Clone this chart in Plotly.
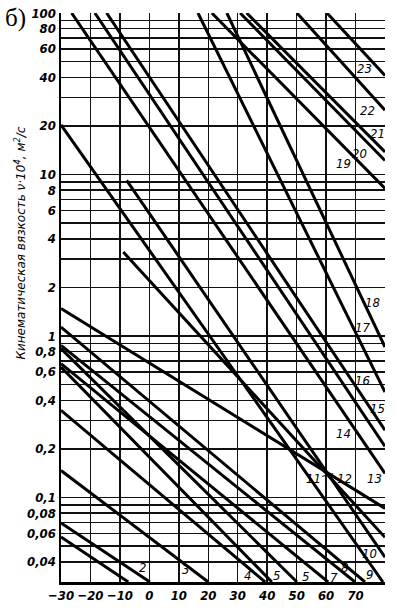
import numpy as np
import plotly.graph_objects as go

# ---- data ----
line_ids = ["1", "2", "3", "4", "g1", "g2", "g3", "g4", "g5", "g6",
            "a", "e", "f", "b", "c", "d", "17", "18", "19", "20", "21", "22", "23"]
t_start = [-30, -30, -30, -30, -30, -30, -30, -30, -30, -30,
           -30, -7.7, -8.85, -26.4, -18.5, -14.5, 16.5, 26.3, 21.2, 30.8, 33.05, 50.1, 60.3]
nu_start = [0.057, 0.0695, 0.147, 0.347, 1.48, 1.137, 0.876, 0.836, 0.675, 0.643,
            20.3, 9.2, 3.31, 100, 100, 100, 100, 100, 100, 100, 100, 100, 100]
t_end = [-7.15, 0.2, 20.0, 39.3, 80, 73.2, 69.8, 50.1, 60.7, 41.6,
         79.3, 80, 80, 80, 80, 80, 80, 80, 80, 80, 80, 80, 80]
nu_end = [0.03, 0.03, 0.03, 0.03, 0.0857, 0.03, 0.03, 0.03, 0.03, 0.03,
          0.03, 0.0427, 0.0567, 0.141, 0.2075, 0.261, 0.45, 0.855, 8.2, 12.2, 13.8, 25.0, 41.1]

label_text = ["2", "3", "4", "5", "5", "7", "8", "9", "10", "13",
              "14", "15", "16", "17", "18", "19", "20", "21", "22", "23"]
label_t = [-2.2, 12.4, 33.2, 43.3, 52.9, 62.7, 66.4, 74.6, 74.9, 76.6,
           65.8, 77.3, 72.5, 72.5, 75.9, 65.8, 71.5, 77.6, 74.2, 73.2]
label_nu = [0.037, 0.036, 0.033, 0.033, 0.0325, 0.032, 0.037, 0.0334, 0.0451, 0.1315,
            0.25, 0.357, 0.532, 1.13, 1.62, 11.7, 13.5, 18.0, 25.0, 45.5]

# labels with small leader strokes: text, tip T, tip nu, text offset (px)
leader_text = ["11", "12"]
leader_t = [62.4, 64.1]
leader_nu = [0.1406, 0.111]
leader_dx = [-20, 6]
leader_dy = [5, -12]

x_ticks = [-30, -20, -10, 0, 10, 20, 30, 40, 50, 60, 70, 80]
x_ticktext = ["−30", "−20", "−10", "0", "10", "20", "30", "40", "50", "60", "70", "T,°C"]

y_grid = [m * 10.0 ** e for e in range(-2, 2) for m in range(1, 10)] + [100]
y_grid = [v for v in y_grid if v >= 0.03 - 1e-9]
y_labels = {100: "100", 80: "80", 60: "60", 40: "40", 20: "20", 10: "10", 8: "8", 6: "6",
            4: "4", 2: "2", 1: "1", 0.8: "0,8", 0.6: "0,6", 0.4: "0,4", 0.2: "0,2",
            0.1: "0,1", 0.08: "0,08", 0.06: "0,06", 0.04: "0,04"}

def lab(v):
    for k, s in y_labels.items():
        if abs(v - k) / k < 1e-6:
            return s
    return ""

y_ticktext = [lab(v) for v in y_grid]

FONT = "DejaVu Sans Condensed, Liberation Sans Narrow, sans-serif"
TICKFONT = dict(family=FONT, size=13, color="black", style="italic", weight="bold")
LABFONT = dict(family=FONT, size=13, color="black", style="italic")

fig = go.Figure()
for i in range(len(line_ids)):
    fig.add_trace(go.Scatter(x=[t_start[i], t_end[i]], y=[nu_start[i], nu_end[i]],
                             mode="lines", line=dict(color="black", width=3),
                             showlegend=False, hoverinfo="skip"))

for s, t, n in zip(label_text, label_t, label_nu):
    fig.add_annotation(x=t, y=np.log10(n), text=s, showarrow=False, font=LABFONT)

for s, t, n, dx, dy in zip(leader_text, leader_t, leader_nu, leader_dx, leader_dy):
    fig.add_annotation(x=t, y=np.log10(n), text=s, showarrow=True, arrowhead=0,
                       arrowwidth=1, arrowcolor="black", ax=dx, ay=dy, standoff=0,
                       font=LABFONT)

fig.add_annotation(xref="paper", yref="paper", x=-0.157, y=0.595, textangle=-90,
                   text="Кинематическая вязкость ν·10<sup>4</sup>, м<sup>2</sup>/с",
                   showarrow=False, font=dict(family="DejaVu Sans, sans-serif", size=12,
                                              color="black", style="italic"))
fig.add_annotation(xref="paper", yref="paper", x=-0.178, y=1.02, xanchor="left", yanchor="top",
                   text="б)", showarrow=False,
                   font=dict(family="Liberation Serif, Times New Roman, serif", size=25, color="black"))

fig.update_xaxes(range=[-30, 80], tickvals=x_ticks, ticktext=x_ticktext, showgrid=True,
                 gridcolor="#111111", gridwidth=1.5, zeroline=False, ticks="", automargin=False,
                 showline=True, linecolor="black", linewidth=2.5, tickfont=TICKFONT)
fig.update_yaxes(type="log", range=[np.log10(0.03), 2], tickvals=y_grid, ticktext=y_ticktext,
                 showgrid=True, gridcolor="#111111", gridwidth=1.5, zeroline=False, ticks="",
                 automargin=False, showline=True, linecolor="black", linewidth=2.5,
                 tickfont=TICKFONT)

fig.update_layout(width=397, height=614, margin=dict(l=61, r=12, t=13, b=32, autoexpand=False),
                  plot_bgcolor="white", paper_bgcolor="white")
fig.write_html("out.html", config={"displayModeBar": False, "staticPlot": True},
               post_script="document.body.style.margin='0px';")
